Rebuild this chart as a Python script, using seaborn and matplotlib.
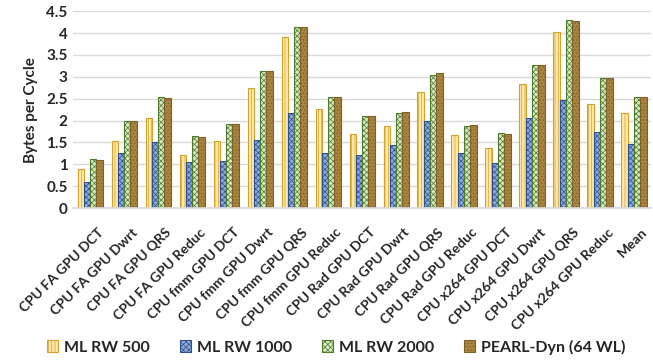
import matplotlib
matplotlib.use("Agg")
import matplotlib.pyplot as plt
import matplotlib.transforms as mtransforms
from matplotlib.patches import Patch
import seaborn as sns
import pandas as pd

categories = [
    "CPU FA GPU DCT", "CPU FA GPU Dwrt", "CPU FA GPU QRS", "CPU FA GPU Reduc",
    "CPU fmm GPU DCT", "CPU fmm GPU Dwrt", "CPU fmm GPU QRS", "CPU fmm GPU Reduc",
    "CPU Rad GPU DCT", "CPU Rad GPU Dwrt", "CPU Rad GPU QRS", "CPU Rad GPU Reduc",
    "CPU x264 GPU DCT", "CPU x264 GPU Dwrt", "CPU x264 GPU QRS", "CPU x264 GPU Reduc",
    "Mean",
]
series_names = ["ML RW 500", "ML RW 1000", "ML RW 2000", "PEARL-Dyn (64 WL)"]
ml_rw_500 = [0.89, 1.53, 2.06, 1.21, 1.54, 2.75, 3.92, 2.27,
             1.69, 1.88, 2.66, 1.66, 1.37, 2.84, 4.02, 2.37, 2.17]
ml_rw_1000 = [0.60, 1.27, 1.50, 1.05, 1.08, 1.55, 2.18, 1.27,
              1.21, 1.44, 1.98, 1.26, 1.03, 2.05, 2.46, 1.73, 1.47]
ml_rw_2000 = [1.12, 1.99, 2.53, 1.64, 1.93, 3.14, 4.14, 2.54,
              2.11, 2.18, 3.03, 1.88, 1.72, 3.28, 4.29, 2.98, 2.53]
pearl_dyn = [1.11, 1.98, 2.52, 1.63, 1.92, 3.13, 4.13, 2.53,
             2.11, 2.20, 3.08, 1.90, 1.70, 3.28, 4.28, 2.98, 2.53]
yticks = [0, 0.5, 1, 1.5, 2, 2.5, 3, 3.5, 4, 4.5]
ytick_labels = ["0", "0.5", "1", "1.5", "2", "2.5", "3", "3.5", "4", "4.5"]

df = pd.DataFrame({
    "category": categories * 4,
    "series": sum([[s] * len(categories) for s in series_names], []),
    "value": ml_rw_500 + ml_rw_1000 + ml_rw_2000 + pearl_dyn,
})

# fill, edge/hatch colour, hatch pattern for each series
styles = [
    ("#FFE9A8", "#D4A12A", "|||||"),
    ("#8EA9DB", "#2F4F8F", "xxxxxx"),
    ("#D6EBC4", "#4E7A2E", "xxxxxx"),
    ("#A8843E", "#7F6128", "....."),
]

sns.set_theme(style="white")
plt.rcParams["font.family"] = ["Lato", "DejaVu Sans"]
plt.rcParams["hatch.linewidth"] = 0.5

fig = plt.figure(figsize=(6.53, 3.6), dpi=100)
ax = fig.add_axes([0.112, 0.422, 0.885, 0.547])

sns.barplot(data=df, x="category", y="value", hue="series", order=categories,
            hue_order=series_names, width=0.74, gap=0, ax=ax, legend=False,
            saturation=1)

for cont, (fc, ec, hatch) in zip(ax.containers, styles):
    for bar in cont:
        bar.set_facecolor(fc)
        bar.set_edgecolor(ec)
        bar.set_hatch(hatch)
        bar.set_linewidth(0.8)

ax.set_ylim(0, 4.5)
ax.set_xlim(-0.5, len(categories) - 0.5)
ax.set_yticks(yticks)
ax.set_yticklabels(ytick_labels, fontsize=11, fontweight="bold", color="#262626")
ax.yaxis.grid(True, color="#D9D9D9", linewidth=1.0)
ax.set_axisbelow(True)
for side in ["top", "right", "left"]:
    ax.spines[side].set_visible(False)
ax.spines["bottom"].set_color("#D9D9D9")
ax.tick_params(axis="y", length=0, pad=4)
ax.tick_params(axis="x", length=0, pad=13)

ax.set_xticks(range(len(categories)))
ax.set_xticklabels(categories, rotation=45, ha="right", rotation_mode="anchor",
                   fontsize=10, fontweight="bold", color="#262626")
shift = mtransforms.ScaledTranslation(7 / 100, 0, fig.dpi_scale_trans)
for lbl in ax.get_xticklabels():
    lbl.set_transform(lbl.get_transform() + shift)
ax.set_xlabel("")
ax.set_ylabel("Bytes per Cycle", fontsize=11, fontweight="bold", color="#262626",
              labelpad=6)

handles = [Patch(facecolor=fc, edgecolor=ec, hatch=h, linewidth=0.8)
           for fc, ec, h in styles]
fig.legend(handles, series_names, loc="center", bbox_to_anchor=(0.515, 0.036),
           ncol=4, frameon=False, prop={"size": 11.5, "weight": "bold"},
           handlelength=0.7, handleheight=0.7, columnspacing=1.9,
           handletextpad=0.35, labelcolor="#262626")

fig.savefig("out.png", dpi=100)
